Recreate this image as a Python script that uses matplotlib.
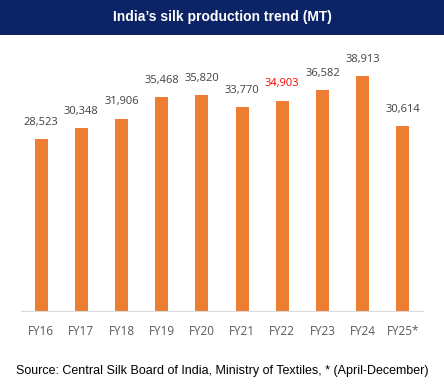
import matplotlib.pyplot as plt
import matplotlib.patches as mpatches

years = ["FY16", "FY17", "FY18", "FY19", "FY20", "FY21", "FY22", "FY23", "FY24", "FY25*"]
production = [28523, 30348, 31906, 35468, 35820, 33770, 34903, 36582, 38913, 30614]
highlight = "FY22"

W, H = 444, 388
fig = plt.figure(figsize=(W / 100, H / 100), dpi=100)

# title banner
fig.patches.append(mpatches.Rectangle((0, 1 - 35 / H), 1, 35 / H, transform=fig.transFigure,
                                      facecolor="#0c2366", edgecolor="none", zorder=0))
fig.text(0.5, 1 - 17 / H, "India\u2019s silk production trend (MT)", color="white",
         fontsize=10, fontweight="bold", family="Liberation Sans", ha="center", va="center")

ax = fig.add_axes([21 / W, (H - 311) / H, 402 / W, 266 / H])
x = range(len(years))
ax.bar(x, production, width=0.32, color="#ed7d31", zorder=2)
ax.set_xlim(-0.5, len(years) - 0.5)
ax.set_ylim(0, 266 / 0.00603)

for i, v in enumerate(production):
    col = "#ff0000" if years[i] == highlight else "#404040"
    ax.annotate(f"{v:,}", (i, v), xytext=(0, 8), textcoords="offset points",
                ha="center", va="bottom", fontsize=8, color=col, family="Open Sans")

ax.set_xticks(list(x))
ax.set_xticklabels(years, fontsize=8.5, color="#595959", family="Open Sans")
ax.tick_params(axis="x", length=0, pad=10)
ax.set_yticks([])
for s in ["top", "right", "left"]:
    ax.spines[s].set_visible(False)
ax.spines["bottom"].set_color("#d9d9d9")

fig.text(0.5, 1 - 371 / H, "Source: Central Silk Board of India, Ministry of Textiles, * (April-December)",
         fontsize=9, family="Liberation Sans", ha="center", va="center", color="black")

fig.savefig("out.png", dpi=100)
